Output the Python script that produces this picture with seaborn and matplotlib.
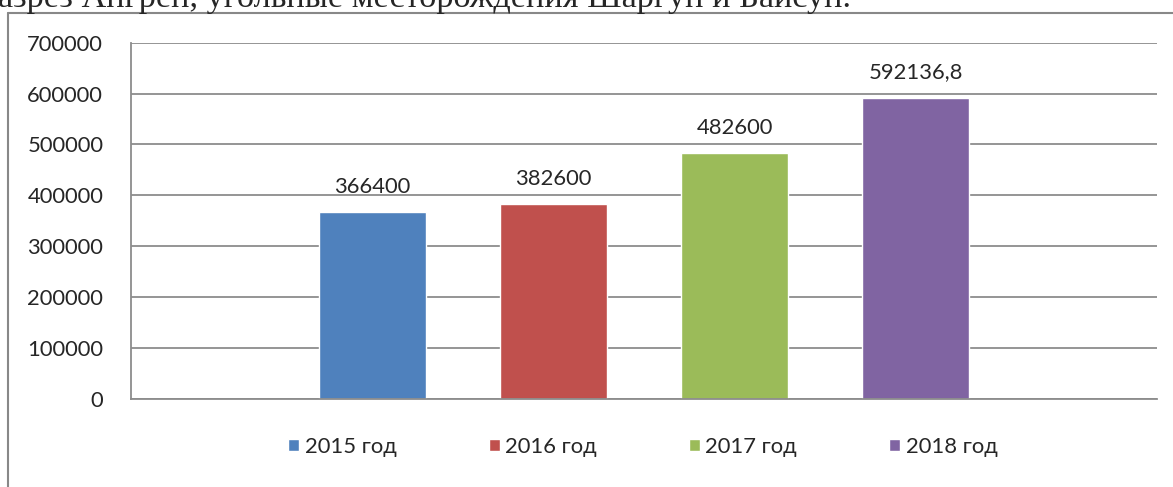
import seaborn as sns
import matplotlib.pyplot as plt
import matplotlib.lines as mlines
import pandas as pd

# данные
years = ["2015 год", "2016 год", "2017 год", "2018 год"]
values = [366400, 382600, 482600, 592136.8]
value_labels = ["366400", "382600", "482600", "592136,8"]
colors = ["#4F81BD", "#C0504D", "#9BBB59", "#8064A2"]
yticks = [0, 100000, 200000, 300000, 400000, 500000, 600000, 700000]

df = pd.DataFrame({"year": years, "value": values})

sns.set_style("white")
plt.rcParams["font.family"] = ["Lato", "DejaVu Sans"]

fig = plt.figure(figsize=(11.73, 4.87), dpi=100)
ax = fig.add_axes([131 / 1173, 1 - 398.7 / 487, (1157 - 131) / 1173, (398.7 - 42.7) / 487])

sns.barplot(data=df, x="year", y="value", hue="year", palette=colors,
            width=0.59, saturation=1, legend=True, ax=ax)

ax.set_xlim(-1.334, 4.334)
ax.set_ylim(0, 700000)
ax.set_yticks(yticks)
ax.set_yticklabels([str(t) for t in yticks], fontsize=15.8)
ax.set_xticks([])
ax.set_xlabel("")
ax.set_ylabel("")
ax.yaxis.grid(True, color="#8c8c8c", linewidth=1.3)
ax.set_axisbelow(True)
ax.tick_params(axis="y", length=0, pad=20)
for side in ["top", "right"]:
    ax.spines[side].set_visible(False)
for side in ["left", "bottom"]:
    ax.spines[side].set_color("#8c8c8c")
    ax.spines[side].set_linewidth(1.3)

for cont, lab in zip(ax.containers, value_labels):
    ax.bar_label(cont, labels=[lab], padding=11, fontsize=15.8)

sns.move_legend(ax, "center", bbox_to_anchor=(0.548, 1 - 447 / 487),
                bbox_transform=fig.transFigure, ncol=4, frameon=False,
                title=None, fontsize=15.8, handlelength=0.5, handleheight=0.5,
                handletextpad=0.25, columnspacing=4.2)

# рамка и обрезанная строка текста сверху
fig.add_artist(mlines.Line2D([8 / 1173, 8 / 1173], [0, 1 - 13 / 487],
                             color="#888888", linewidth=1.5))
fig.add_artist(mlines.Line2D([8 / 1173, 1], [1 - 13 / 487, 1 - 13 / 487],
                             color="#888888", linewidth=1.5))
fig.text(-0.002, 1 - 7 / 487, "азрез Ангрен, угольные месторождения Шаргун и Байсун.",
         family="Liberation Serif", fontsize=24.7, va="baseline", ha="left")

fig.savefig("out.png", dpi=100)
